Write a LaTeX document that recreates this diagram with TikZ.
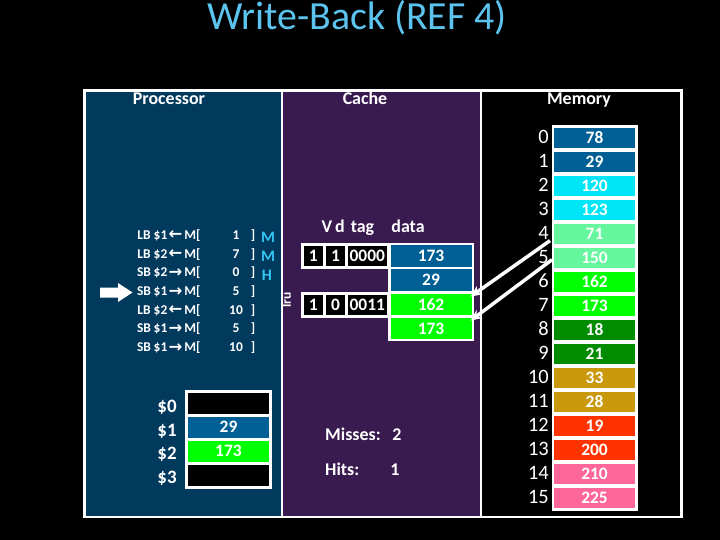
\documentclass[tikz,border=0pt]{standalone}
\usepackage{fontspec}
\setmainfont{Carlito}
\newfontfamily\arrowfont{DejaVu Sans}
\usetikzlibrary{calc,arrows.meta}
\definecolor{titleblue}{HTML}{5CC3EF}
\definecolor{procbg}{HTML}{023A5E}
\definecolor{cachebg}{HTML}{3A1B50}
\definecolor{mhcol}{HTML}{33C6F2}
\definecolor{cblue}{HTML}{005F94}
\definecolor{ccyan}{HTML}{00E6F7}
\definecolor{clgreen}{HTML}{66F79E}
\definecolor{cgreen}{HTML}{00FF00}
\definecolor{cdgreen}{HTML}{008C00}
\definecolor{cgold}{HTML}{C9980C}
\definecolor{cred}{HTML}{FF3300}
\definecolor{cpink}{HTML}{FF6699}
\begin{document}
\begin{tikzpicture}[x=1bp,y=-1bp,
  base/.style={inner sep=0pt,text=white},
  lbl/.style={base,font=\bfseries\fontsize{18}{18}\selectfont,text height=11.4bp,text depth=0pt},
  num/.style={base,font=\bfseries\fontsize{17.5}{17.5}\selectfont,text height=11.1bp,text depth=0pt},
  ins/.style={base,font=\bfseries\fontsize{13.5}{13.5}\selectfont,anchor=base},
  insarr/.style={base,font=\arrowfont\bfseries\fontsize{16.5}{16.5}\selectfont,anchor=base},
  mh/.style={base,text=mhcol,font=\bfseries\fontsize{16}{16}\selectfont,text height=10bp,text depth=0pt},
  idx/.style={base,font=\fontsize{20.5}{20.5}\selectfont,text height=12.9bp,text depth=0pt},
  reglbl/.style={base,font=\bfseries\fontsize{19}{19}\selectfont,text height=12bp,text depth=0pt},
  mcell/.style={num,minimum width=81bp,minimum height=20.5bp},
  dcell/.style={num,minimum width=81bp,minimum height=21.5bp},
  tcell/.style={num,fill=black,minimum height=20bp},
  rcell/.style={num,minimum width=81bp,minimum height=21bp},
  conn/.style={white,line width=3.5bp,-{Stealth[length=11bp,width=10bp]}}]
\useasboundingbox (0,0) rectangle (720,540);
\fill[black] (0,0) rectangle (720,540);
% title
\node[base,text=titleblue,font=\fontsize{40}{40}\selectfont,anchor=base] (title) at (357,29.5) {Write-Back (REF 4)};
% frame and panels
\fill[white] (83,89.5) rectangle (682.5,518);
\fill[procbg] (85.5,92) rectangle (280.5,515.5);
\fill[cachebg] (283,92) rectangle (479.5,515.5);
\fill[black] (482,92) rectangle (680,515.5);
\node[lbl] (proc) at (169,98.5) {Processor};
\node[lbl] (cache) at (365,98.5) {Cache};
\node[lbl] (mem) at (579,98.5) {Memory};
% instructions
\foreach \op/\rg/\ar/\n [count=\i from 0] in {LB/1/←/1,LB/2/←/7,SB/2/→/0,SB/1/→/5,LB/2/←/10,SB/1/→/5,SB/1/→/10}{
  \node[ins] (op\i) at (144,{239.5+18.67*\i}) {\op};
  \node[ins] (rg\i) at (160.5,{239.5+18.67*\i}) {\$\rg};
  \node[insarr] (ar\i) at (175.5,{240+18.67*\i}) {\ar};
  \node[ins] (mm\i) at (192.5,{239.5+18.67*\i}) {M[};
  \node[ins] (n\i) at (236,{239.5+18.67*\i}) {\n};
  \node[ins] (br\i) at (253,{239.5+18.67*\i}) {]};
}
\node[mh] (mh0) at (268,237.5) {M};
\node[mh] (mh1) at (268,256.5) {M};
\node[mh] (mh2) at (267,276) {H};
% current-instruction arrow
\fill[white] (100,287.5) -- (118,287.5) -- (118,283) -- (132.5,292.5) -- (118,302) -- (118,297.5) -- (100,297.5) -- cycle;
% registers
\foreach \r [count=\i from 0] in {0,1,2,3}{
  \node[reglbl] (rl\i) at (167,{406.5+23.7*\i}) {\$\r};
}
\fill[white] (185,390) rectangle (272,488.5);
\node[rcell,fill=black] (r0) at (228.5,403) {};
\node[rcell,fill=cblue] (r1) at (228.5,427) {29};
\node[rcell,fill=cgreen] (r2) at (228.5,451) {173};
\node[rcell,fill=black] (r3) at (228.5,475) {};
% cache
\node[lbl] (hv) at (327,227) {V};
\node[lbl] (hd) at (340,227) {d};
\node[lbl] (ht) at (362.5,227) {tag};
\node[lbl] (hdata) at (408,227) {data};
\fill[white] (301,243) rectangle (389,269);
\fill[white] (301,292) rectangle (389,318);
\fill[white] (388,243) rectangle (474,341);
\node[tcell,minimum width=19.5bp] (v1) at (313.25,256) {1};
\node[tcell,minimum width=19bp] (d1) at (335.5,256) {1};
\node[tcell,minimum width=38.5bp] (t1) at (367.25,256) {0000};
\node[tcell,minimum width=19.5bp] (v2) at (313.25,305) {1};
\node[tcell,minimum width=19bp] (d2) at (335.5,305) {0};
\node[tcell,minimum width=38.5bp] (t2) at (367.25,305) {0011};
\node[dcell,fill=cblue] (cd0) at (431,256) {173};
\node[dcell,fill=cblue] (cd1) at (431,280) {29};
\node[dcell,fill=cgreen] (cd2) at (431,304.5) {162};
\node[dcell,fill=cgreen] (cd3) at (431,328.5) {173};
\node[base,rotate=90,anchor=south,font=\bfseries\fontsize{13.5}{13.5}\selectfont,text depth=0pt] (lru) at (291,300) {lru};
\node[lbl,anchor=west] (misses) at (325,435) {Misses:};
\node[lbl] (missn) at (397,435) {2};
\node[lbl,anchor=west] (hits) at (325,470) {Hits:};
\node[lbl] (hitn) at (395,470) {1};
% memory
\fill[white] (551.5,125.5) rectangle (637.5,510.5);
\foreach \v/\c [count=\i from 0] in {78/cblue,29/cblue,120/ccyan,123/ccyan,71/clgreen,150/clgreen,162/cgreen,173/cgreen,18/cdgreen,21/cdgreen,33/cgold,28/cgold,19/cred,200/cred,210/cpink,225/cpink}{
  \node[mcell,fill=\c] (mc\i) at (594.5,{138+24*\i}) {\v};
  \node[idx,anchor=east] (mi\i) at (549,{137+24*\i}) {\i};
}
% write-back arrows
\draw[conn] ($(mi4.south east)+(1,1)$) -- ($(cd2.north east)+(-1,3)$);
\draw[conn] ($(mi5.south east)+(3,-4)$) -- ($(cd3.north east)+(-1,3)$);
\end{tikzpicture}
\end{document}
